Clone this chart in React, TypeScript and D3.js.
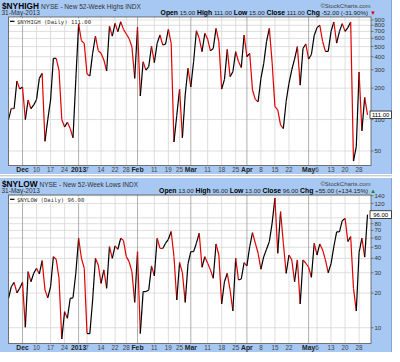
import * as d3 from 'd3';
import React from 'react';

// daily closes, 26-Nov-2012 .. 31-May-2013 (trading days)
const highValues = [
  100, 128, 127, 234, 196, 205, 100, 154, 127, 138, 156, 248, 277, 62, 100, 154, 386, 386, 298, 100,
  85, 94, 82, 67, 240, 823, 569, 537, 273, 261, 432, 630, 457, 432, 372, 292, 788, 630, 836, 695,
  866, 732, 661, 596, 499, 248, 765, 168, 358, 298, 321, 507, 351, 537, 646, 518, 528, 732, 537, 61,
  110, 196, 67, 172, 310, 205, 360, 710, 600, 447, 670, 590, 455, 480, 748, 558, 196, 243, 470, 258,
  287, 447, 360, 315, 646, 400, 430, 192, 156, 148, 248, 345, 558, 748, 350, 133, 124, 89, 82, 150,
  222, 300, 380, 500, 214, 480, 530, 380, 420, 640, 760, 800, 560, 450, 450, 700, 860, 540, 700, 830,
  700, 760, 860, 40, 55, 285, 78, 163, 111,
];
const lowValues = [
  18, 22.7, 24.8, 20.1, 22, 24.8, 10.1, 30.7, 25.1, 29.7, 32.9, 29.3, 38.3, 21.3, 18.2, 22.7, 41.4, 39.3, 26.9, 8,
  13.8, 12.1, 18, 18.2, 29.7, 59.8, 40.1, 32.9, 8.9, 8.9, 17.4, 40.1, 35.1, 24.3, 31.8, 22, 50.6, 40.1, 51.3, 48,
  59.8, 57.1, 41.4, 37.5, 30.7, 16.6, 45.7, 8.9, 20.6, 20.6, 21.3, 34.4, 28.2, 59.8, 49, 48.7, 54.2, 58.6, 68.5, 41.4,
  17.4, 36.8, 30.1, 16.6, 35.8, 45.7, 45.8, 54.2, 66.2, 33.5, 41.4, 36.3, 31.8, 26.9, 53.4, 42.8, 16.1, 25.1, 29.7, 21.3,
  14, 40.1, 26, 26.5, 36.8, 34.4, 50.6, 67, 54.2, 44.3, 32.2, 41.4, 48, 55.9, 80.9, 133.5, 44.3, 101.8, 54.2, 29.7,
  42.8, 38.8, 25.1, 38.8, 16.1, 38.8, 36.3, 33.5, 27.4, 54.2, 42.8, 53.4, 47.4, 38.8, 30, 36, 50.6, 68, 68, 85,
  89, 56, 62, 22, 14, 45, 60, 41, 96,
];

// x-axis ticks (index into the trading days) and their labels
const tickIdx = [5, 10, 15, 20, 25, 28, 33, 38, 42, 46, 52, 57, 61, 65, 71, 76, 81, 85, 90, 95, 100, 107, 110, 115, 120, 125];
const tickLabels = ['Dec', '10', '17', '24', '2013', '7', '14', '22', '28', 'Feb', '11', '19', '25', 'Mar', '11', '18', '25', 'Apr', '8', '15', '22', 'May', '6', '13', '20', '28'];
const monthLabels = ['Dec', '2013', 'Feb', 'Mar', 'Apr', 'May'];

const highTicks = [900, 800, 700, 600, 500, 400, 300, 200, 100, 50];
const lowTicks = [140, 120, 90, 80, 70, 60, 50, 40, 30, 20, 10];

const highQuote = [['Open', '15.00'], ['High', '111.00'], ['Low', '15.00'], ['Close', '111.00'], ['Chg', '-52.00 (-31.90%)']];
const lowQuote = [['Open', '13.00'], ['High', '96.00'], ['Low', '13.00'], ['Close', '96.00'], ['Chg', '+55.00 (+134.15%)']];

const BLUE = '#a6c8f2';
const FONT = '"Liberation Sans", Arial, sans-serif';
const PL = 8.5;
const PR = 371;
const PT = 17;
const PB = 165.5;

const x = d3.scaleLinear().domain([0, highValues.length - 1]).range([PL, 367.5]);

interface PanelProps {
  top: number;
  symbol: string;
  name: string;
  values: number[];
  ticks: number[];
  domain: [number, number];
  quote: string[][];
  up: boolean;
}

const Panel = ({ top, symbol, name, values, ticks, domain, quote, up }: PanelProps) => {
  const y = d3.scaleLog().domain(domain).range([PB, PT]);
  const line = d3.line<[number, number]>().x(d => x(d[0])).y(d => y(d[1]));
  const last = values[values.length - 1];
  const segs = values.slice(1).map((v, i) => ({
    d: line([[i, values[i]], [i + 1, v]]),
    c: v >= values[i] ? '#000' : '#e00000',
  }));
  // labels hidden by the last-value box
  const shown = ticks.filter(t => Math.abs(y(t) - y(last)) > 4.5);

  return (
    <g transform={`translate(0,${top})`} fontFamily={FONT}>
      <rect x={0} y={0} width={392} height={174} fill={BLUE} />
      <line x1={391.5} y1={0} x2={391.5} y2={174} stroke="#7fa6d6" />
      <text x={2} y={8.5} fontSize={8.3} fontWeight="bold" fill="#000">
        {symbol}
        <tspan fontWeight="normal" fontSize={6.5} fill="#333" dx={2}>{name}</tspan>
      </text>
      <text x={1.5} y={15.3} fontSize={6.5} fill="#333">31-May-2013</text>
      <text x={370.5} y={8} fontSize={6} fill="#444" textAnchor="end">©StockCharts.com</text>
      <text x={368} y={15.3} fontSize={6.2} fill="#222" textAnchor="end">
        {quote.map(([k, v], i) => (
          <tspan key={k}>
            <tspan fontWeight="bold" fontSize={6.8} fill="#000">{(i ? ' ' : '') + k}</tspan>
            {' ' + v}
          </tspan>
        ))}
      </text>
      <text x={373} y={15.3} fontSize={6} fill={up ? '#0a8a0a' : '#e00000'} textAnchor="middle">
        {up ? '▲' : '▼'}
      </text>

      <rect x={PL} y={PT} width={PR - PL} height={PB - PT} fill="#fff" />
      {ticks.map(t => (
        <line key={'h' + t} x1={PL} x2={PR} y1={y(t)} y2={y(t)} stroke="#d6d6d6" strokeWidth={0.8} />
      ))}
      {tickIdx.map((t, i) => (
        <line
          key={'v' + t}
          x1={x(t)}
          x2={x(t)}
          y1={PT}
          y2={PB}
          stroke={monthLabels.includes(tickLabels[i]) ? '#9c9c9c' : '#d6d6d6'}
          strokeWidth={0.8}
        />
      ))}
      <rect x={10} y={18.5} width={80} height={6.5} fill="#fff" />
      <line x1={10} x2={14.5} y1={21.3} y2={21.3} stroke="#000" strokeWidth={1.2} />
      <text x={17} y={23.6} fontSize={5.6} fontFamily='"DejaVu Sans Mono", monospace' fill="#333">
        {`${symbol} (Daily) ${last.toFixed(2)}`}
      </text>
      {segs.map((s, i) => (
        <path key={i} d={s.d ?? ''} fill="none" stroke={s.c} strokeWidth={1.2} strokeLinejoin="round" />
      ))}
      <rect x={PL} y={PT} width={PR - PL} height={PB - PT} fill="none" stroke="#555" strokeWidth={0.8} />

      {ticks.map(t => (
        <line key={'k' + t} x1={PR} x2={PR + 2.5} y1={y(t)} y2={y(t)} stroke="#555" strokeWidth={0.7} />
      ))}
      {shown.map(t => (
        <text key={'t' + t} x={PR + 3.5} y={y(t) + 2.1} fontSize={6} fill="#333">{t}</text>
      ))}
      <rect x={370} y={y(last) - 3.8} width={21.5} height={7.6} fill="#fff" stroke="#000" strokeWidth={0.7} />
      <text x={380.7} y={y(last) + 2.1} fontSize={6} fill="#000" textAnchor="middle">{last.toFixed(2)}</text>

      {tickIdx.map((t, i) => {
        const m = monthLabels.includes(tickLabels[i]);
        return (
          <text
            key={'l' + t}
            x={x(t)}
            y={172.3}
            fontSize={m ? 6.8 : 6.3}
            fontWeight={m ? 'bold' : 'normal'}
            fill={m ? '#222' : '#444'}
            textAnchor="middle"
          >
            {tickLabels[i]}
          </text>
        );
      })}
    </g>
  );
};

const App = () => (
  <svg width={400} height={362} style={{ position: 'absolute', left: 0, top: 0, background: '#fff' }}>
    <Panel
      top={0}
      symbol="$NYHIGH"
      name="NYSE - New 52-Week Highs INDX"
      values={highValues}
      ticks={highTicks}
      domain={[36.3, 961]}
      quote={highQuote}
      up={false}
    />
    <line x1={0} x2={392} y1={175.8} y2={175.8} stroke="#b8b8b8" strokeWidth={1} />
    <Panel
      top={178}
      symbol="$NYLOW"
      name="NYSE - New 52-Week Lows INDX"
      values={lowValues}
      ticks={lowTicks}
      domain={[7.3, 142]}
      quote={lowQuote}
      up={true}
    />
  </svg>
);

export default App;
